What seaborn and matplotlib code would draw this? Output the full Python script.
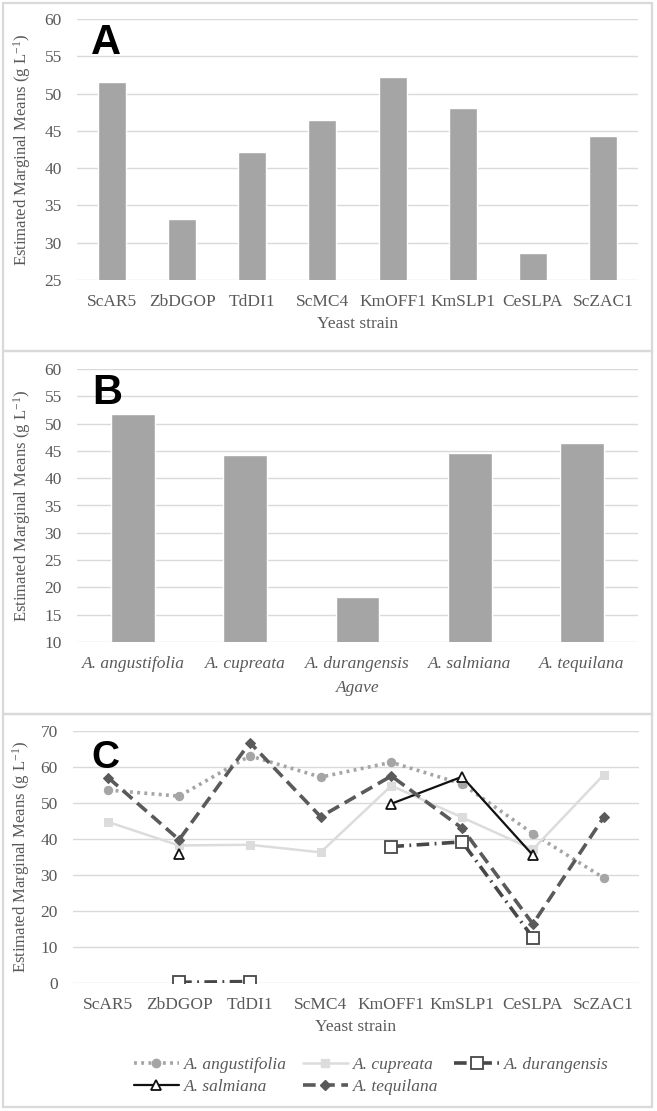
import numpy as np
import pandas as pd
import matplotlib
matplotlib.use("Agg")
import matplotlib.pyplot as plt
from matplotlib.patches import Rectangle
from matplotlib.lines import Line2D
import seaborn as sns

# ---------------- data ----------------
strains = ["ScAR5", "ZbDGOP", "TdDI1", "ScMC4", "KmOFF1", "KmSLP1", "CeSLPA", "ScZAC1"]
strain_means = [51.6, 33.2, 42.2, 46.5, 52.2, 48.1, 28.6, 44.3]

agaves = ["A. angustifolia", "A. cupreata", "A. durangensis", "A. salmiana", "A. tequilana"]
agave_means = [51.8, 44.2, 18.2, 44.6, 46.5]

nan = np.nan
angustifolia = [53.6, 51.9, 63.1, 57.2, 61.3, 55.3, 41.5, 29.2]
cupreata = [44.7, 38.2, 38.4, 36.3, 54.8, 46.0, 37.1, 57.8]
durangensis = [nan, 0.2, 0.4, nan, 37.9, 39.2, 12.6, nan]
salmiana = [nan, 35.8, nan, nan, 49.8, 57.3, 35.5, nan]
tequilana = [57.0, 39.8, 66.8, 46.2, 57.5, 43.0, 16.4, 46.0]

series_names = ["A. angustifolia", "A. cupreata", "A. durangensis", "A. salmiana", "A. tequilana"]
series_values = [angustifolia, cupreata, durangensis, salmiana, tequilana]

# ---------------- styles ----------------
sns.set_theme(style="white")
plt.rcParams["font.family"] = ["Liberation Serif", "DejaVu Serif"]
plt.rcParams["mathtext.fontset"] = "custom"
plt.rcParams["mathtext.rm"] = "Liberation Serif"
plt.rcParams["mathtext.it"] = "Liberation Serif:italic"

TXT = "#595959"
GRID = "#d9d9d9"
BAR = "#a5a5a5"

series_styles = {
    "A. angustifolia": dict(color="#a5a5a5", linestyle=(0, (0.8, 1.2)), linewidth=2.6,
                            marker="o", markersize=6, markerfacecolor="#a5a5a5",
                            markeredgecolor="#a5a5a5"),
    "A. cupreata": dict(color="#dcdcdc", linestyle="-", linewidth=1.8,
                        marker="s", markersize=6, markerfacecolor="#dcdcdc",
                        markeredgecolor="#dcdcdc"),
    "A. durangensis": dict(color="#474747", linestyle=(0, (3.5, 1.5, 0.5, 1.5)), linewidth=2.6,
                           marker="s", markersize=8, markerfacecolor="white",
                           markeredgecolor="#474747", markeredgewidth=1.3),
    "A. salmiana": dict(color="#111111", linestyle="-", linewidth=1.6,
                        marker="^", markersize=7, markerfacecolor="white",
                        markeredgecolor="#111111", markeredgewidth=1.3),
    "A. tequilana": dict(color="#5a5a5a", linestyle=(0, (3.5, 1.8)), linewidth=2.6,
                         marker="D", markersize=5, markerfacecolor="#5a5a5a",
                         markeredgecolor="#5a5a5a"),
}

W, H = 657, 1111
fig = plt.figure(figsize=(W / 100, H / 100), dpi=100)


def fx(px):
    return px / W


def fy(px):
    return 1 - px / H


# panel frames
for top, bot in [(3, 351), (351, 714), (714, 1107)]:
    fig.add_artist(Rectangle((fx(3), fy(bot)), fx(649), (bot - top) / H,
                             transform=fig.transFigure, fill=False,
                             edgecolor=GRID, linewidth=1.6))

ylab = "Estimated Marginal Means (g L$^{-1}$)"


def style_axes(ax, ylim, yticks, lp_x, lp_y):
    ax.set_ylim(*ylim)
    ax.set_yticks(yticks)
    for s in ax.spines.values():
        s.set_visible(False)
    ax.yaxis.grid(True, color=GRID, linewidth=1.0)
    ax.xaxis.grid(False)
    ax.set_axisbelow(True)
    ax.tick_params(axis="both", length=0, colors=TXT, labelsize=12.5)
    ax.tick_params(axis="y", pad=11)
    ax.tick_params(axis="x", pad=10)
    ax.set_ylabel(ylab, fontsize=12, color=TXT)
    ax.yaxis.set_label_coords(lp_x, 0.5)
    ax.xaxis.label.set_color(TXT)
    ax.xaxis.label.set_fontsize(12.5)
    ax.xaxis.set_label_coords(0.5, lp_y)
    ax.xaxis.label.set_va("center")


# ---------------- panel A ----------------
axA = fig.add_axes([fx(77), fy(280), fx(561), 261 / H])
dfA = pd.DataFrame({"strain": strains, "mean": strain_means})
sns.barplot(data=dfA, x="strain", y="mean", color=BAR, saturation=1, width=0.4,
            ax=axA, errorbar=None)
axA.set_xlim(-0.5, len(strains) - 0.5)
axA.set_xlabel("Yeast strain")
style_axes(axA, (25, 60), range(25, 61, 5), -0.078, -0.168)
axA.text(0.025, 0.985, "A", transform=axA.transAxes, fontsize=30, fontweight="bold",
         family="Liberation Sans", va="top", ha="left", color="black")

# ---------------- panel B ----------------
axB = fig.add_axes([fx(77), fy(642), fx(561), 273 / H])
dfB = pd.DataFrame({"agave": agaves, "mean": agave_means})
sns.barplot(data=dfB, x="agave", y="mean", color=BAR, saturation=1, width=0.39,
            ax=axB, errorbar=None)
axB.set_xlim(-0.5, len(agaves) - 0.5)
axB.set_xlabel("Agave", fontstyle="italic")
style_axes(axB, (10, 60), range(10, 61, 5), -0.078, -0.168)
for lab in axB.get_xticklabels():
    lab.set_fontstyle("italic")
axB.text(0.028, 0.985, "B", transform=axB.transAxes, fontsize=30, fontweight="bold",
         family="Liberation Sans", va="top", ha="left", color="black")

# ---------------- panel C ----------------
axC = fig.add_axes([fx(73), fy(983), fx(566), 252 / H])
xpos = np.arange(len(strains))
for name, vals in zip(series_names, series_values):
    vals = np.asarray(vals, dtype=float)
    st = series_styles[name]
    # split into contiguous non-missing segments so gaps stay open
    valid = ~np.isnan(vals)
    seg = []
    segments = []
    for i in range(len(vals)):
        if valid[i]:
            seg.append(i)
        elif seg:
            segments.append(seg)
            seg = []
    if seg:
        segments.append(seg)
    for s in segments:
        dfs = pd.DataFrame({"x": xpos[s], "y": vals[s]})
        sns.lineplot(data=dfs, x="x", y="y", ax=axC, errorbar=None, sort=False,
                     legend=False, **st)

axC.set_xlim(-0.5, len(strains) - 0.5)
axC.set_xticks(xpos)
axC.set_xticklabels(strains)
axC.set_xlabel("Yeast strain")
style_axes(axC, (0, 70), range(0, 71, 10), -0.072, -0.175)
axC.text(0.033, 0.965, "C", transform=axC.transAxes, fontsize=28, fontweight="bold",
         family="Liberation Sans", va="top", ha="left", color="black")

# legend (order arranged so rows read: ang, cup, dur / sal, teq)
order = [0, 3, 1, 4, 2]
handles = []
labels = []
for i in order:
    st = dict(series_styles[series_names[i]])
    handles.append(Line2D([], [], **st))
    labels.append(series_names[i])
leg = fig.legend(handles, labels, ncol=3, loc="center left",
                 bbox_to_anchor=(fx(118), fy(1076)), frameon=False,
                 prop={"family": "Liberation Serif", "style": "italic", "size": 12.5},
                 handlelength=2.6, columnspacing=0.9, handletextpad=0.3,
                 labelspacing=0.35)
for t in leg.get_texts():
    t.set_color(TXT)

fig.savefig("out.png", dpi=100)
